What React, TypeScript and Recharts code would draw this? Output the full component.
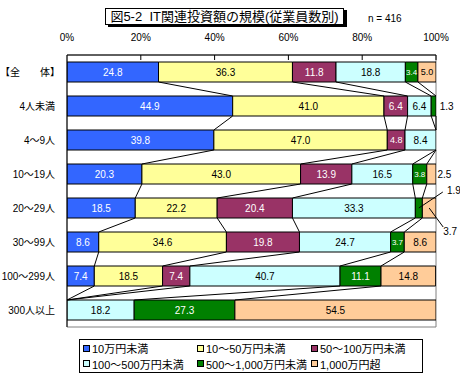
import {
  BarChart,
  Bar,
  XAxis,
  YAxis,
  LabelList,
  ReferenceLine,
  ReferenceDot,
  ReferenceArea,
} from "recharts";

const categories = [
  "【全　　体】",
  "4人未満",
  "4～9人",
  "10～19人",
  "20～29人",
  "30～99人",
  "100～299人",
  "300人以上",
];

const seriesNames = [
  "10万円未満",
  "10～50万円未満",
  "50～100万円未満",
  "100～500万円未満",
  "500～1,000万円未満",
  "1,000万円超",
];

const under10 = [24.8, 44.9, 39.8, 20.3, 18.5, 8.6, 7.4, 0];
const from10to50 = [36.3, 41.0, 47.0, 43.0, 22.2, 34.6, 18.5, 0];
const from50to100 = [11.8, 6.4, 4.8, 13.9, 20.4, 19.8, 7.4, 0];
const from100to500 = [18.8, 6.4, 8.4, 16.5, 33.3, 24.7, 40.7, 18.2];
const from500to1000 = [3.4, 1.3, 0, 3.8, 1.9, 3.7, 11.1, 27.3];
const over1000 = [5.0, 0, 0, 2.5, 3.7, 8.6, 14.8, 54.5];

const xTicks = [0, 20, 40, 60, 80, 100];

const seriesValues = [under10, from10to50, from50to100, from100to500, from500to1000, over1000];
const colors = ["#3366FF", "#FFFF99", "#993366", "#CCFFFF", "#008000", "#FFCC99"];
const textColors = ["#fff", "#000", "#fff", "#000", "#fff", "#000"];

const FONT = '"Liberation Sans", "Noto Sans CJK JP", sans-serif';
const BAR = 20;

const data = categories.map((name, i) => {
  const row: Record<string, number | string> = { name };
  seriesValues.forEach((vals, k) => (row[`s${k}`] = vals[i]));
  return row;
});

// end of series k (cumulative) for row i
const cum = (i: number, k: number) =>
  seriesValues.slice(0, k + 1).reduce((a, vals) => a + vals[i], 0);

// labels drawn outside their segment (row, series, text offset, leader end)
const outside = [
  { row: 1, s: 4, dx: 13, dy: 0 },
  { row: 3, s: 5, dx: 13, dy: 0 },
  { row: 4, s: 4, dx: 35, dy: -18, lx: 24, ly: -16 },
  { row: 4, s: 5, dx: 21, dy: 23, lx: 14, ly: 19 },
];
const isOutside = (row: number, s: number) => outside.some((o) => o.row === row && o.s === s);

// text shown inside a segment ("" = none)
const insideText = (k: number) =>
  // eslint-disable-next-line @typescript-eslint/no-explicit-any
  (entry: any) => {
    const row = categories.indexOf(entry.name);
    const v = seriesValues[k][row];
    return v && !isOutside(row, k) ? v.toFixed(1) : "";
  };

// eslint-disable-next-line @typescript-eslint/no-explicit-any
const XTick = ({ x, y, payload }: any) => (
  <g>
    <text x={x} y={y} textAnchor="middle" dominantBaseline="central" fontSize={10} fontFamily={FONT} fill="#000">
      {payload.value}%
    </text>
    {payload.value > 0 && <line x1={x} x2={x} y1={y + 18} y2={y + 23} stroke="#000" />}
  </g>
);

// eslint-disable-next-line @typescript-eslint/no-explicit-any
const YTick = ({ x, y, payload }: any) => {
  // bracketed label: brackets carry empty side bearings, shift so ink lines up
  const shift = String(payload.value).startsWith("【") ? 5 : 0;
  return (
    <text x={x + shift} y={y} textAnchor="end" dominantBaseline="central" fontSize={10} fontFamily={FONT} fill="#000">
      {payload.value}
    </text>
  );
};

const segLabel = (k: number) =>
  // eslint-disable-next-line @typescript-eslint/no-explicit-any
  (props: any) => {
    const vb = props.viewBox ?? props;
    const { value } = props;
    if (!value) return null;
    const w = vb.width;
    const fs = w < 16 ? 8 : w < 20 ? 9 : 10;
    return (
      <text
        x={vb.x + w / 2}
        y={vb.y + vb.height / 2}
        textAnchor="middle"
        dominantBaseline="central"
        fontSize={fs}
        fontFamily={FONT}
        fill={textColors[k]}
      >
        {value}
      </text>
    );
  };

export default function App() {
  const seriesLines = [];
  for (let i = 0; i < categories.length - 1; i++) {
    for (let k = 0; k < 5; k++) {
      seriesLines.push(
        <ReferenceLine
          key={`sl-${i}-${k}`}
          ifOverflow="visible"
          segment={[
            { x: cum(i, k), y: categories[i] },
            { x: cum(i + 1, k), y: categories[i + 1] },
          ]}
          // eslint-disable-next-line @typescript-eslint/no-explicit-any
          shape={(p: any) => (
            <line x1={p.x1} y1={p.y1 + BAR / 2} x2={p.x2} y2={p.y2 - BAR / 2} stroke="#000" strokeWidth={1} />
          )}
        />
      );
    }
  }

  return (
    <div style={{ position: "absolute", left: 0, top: 0, width: 460, height: 373, background: "#fff", fontFamily: FONT, overflow: "hidden" }}>
      <BarChart
        width={460}
        height={373}
        data={data}
        layout="vertical"
        barSize={BAR}
        margin={{ top: 0, right: 24, bottom: 46, left: 0 }}
      >
        <ReferenceArea x1={0} x2={100} ifOverflow="visible" fill="none" stroke="#808080" />
        <XAxis
          type="number"
          orientation="top"
          domain={[0, 100]}
          allowDataOverflow
          ticks={xTicks}
          height={55}
          tickSize={5}
          tickMargin={13}
          tickLine={false}
          axisLine={{ stroke: "#000" }}
          tick={<XTick />}
        />
        <YAxis
          type="category"
          dataKey="name"
          width={67}
          tickLine={false}
          tickMargin={12}
          tickSize={0}
          axisLine={{ stroke: "#000" }}
          tick={<YTick />}
          interval={0}
        />
        {seriesNames.map((name, k) => (
          <Bar
            key={name}
            dataKey={`s${k}`}
            name={name}
            stackId="a"
            fill={colors[k]}
            stroke="#000"
            strokeWidth={1}
            isAnimationActive={false}
          >
            <LabelList dataKey={insideText(k)} content={segLabel(k)} />
          </Bar>
        ))}
        {seriesLines}
        {outside.map((o) => (
          <ReferenceDot
            key={`out-${o.row}-${o.s}`}
            x={cum(o.row, o.s) - seriesValues[o.s][o.row] / 2}
            y={categories[o.row]}
            ifOverflow="visible"
            // eslint-disable-next-line @typescript-eslint/no-explicit-any
            shape={(p: any) => (
              <g>
                {o.lx !== undefined && (
                  <line x1={p.cx} y1={p.cy} x2={p.cx + o.lx} y2={p.cy + (o.ly ?? 0)} stroke="#000" />
                )}
                <text
                  x={p.cx + o.dx}
                  y={p.cy + o.dy}
                  textAnchor="middle"
                  dominantBaseline="central"
                  fontSize={10}
                  fontFamily={FONT}
                  fill="#000"
                >
                  {seriesValues[o.s][o.row].toFixed(1)}
                </text>
              </g>
            )}
          />
        ))}
      </BarChart>

      <div
        style={{
          position: "absolute",
          left: 105,
          top: 8,
          width: 237,
          height: 15,
          border: "1px solid #000",
          boxShadow: "3px 2px 0 #000",
          background: "#fff",
          fontSize: 13,
          lineHeight: "15px",
          textAlign: "center",
          whiteSpace: "pre",
        }}
      >
        {"図5-2  IT関連投資額の規模(従業員数別)"}
      </div>
      <div style={{ position: "absolute", left: 368, top: 12, fontSize: 10, lineHeight: "14px" }}>n = 416</div>

      <div
        style={{
          position: "absolute",
          left: 79,
          top: 339,
          width: 342,
          height: 31,
          border: "1px solid #000",
          background: "#fff",
          display: "grid",
          gridTemplateColumns: "114px 114px 114px",
          paddingTop: 1,
          boxSizing: "content-box",
        }}
      >
        {seriesNames.map((name, k) => (
          <div
            key={name}
            style={{ display: "flex", alignItems: "center", height: 14, paddingLeft: 3, fontSize: 11, whiteSpace: "nowrap" }}
          >
            <span
              style={{
                display: "inline-block",
                width: 5,
                height: 5,
                border: "1px solid #000",
                background: colors[k],
                marginRight: 2,
              }}
            />
            {name}
          </div>
        ))}
      </div>
    </div>
  );
}
